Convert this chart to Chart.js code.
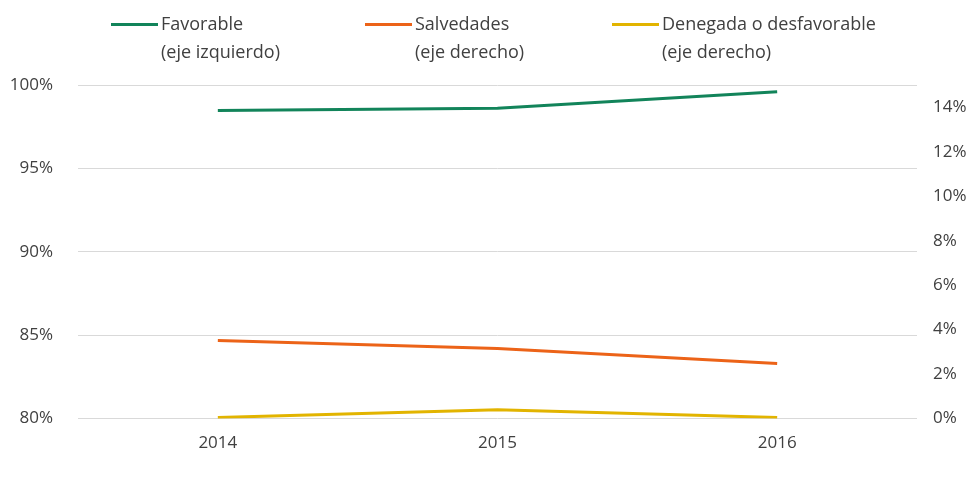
<!DOCTYPE html>
<html>
<head>
<meta charset="utf-8">
<script src="https://cdn.jsdelivr.net/npm/chart.js@4"></script>
<style>
  html, body { margin: 0; padding: 0; background: #fff; }
  #wrap { position: relative; width: 971px; height: 477px; }
  #legend { position: absolute; top: 9px; left: 0; font-family: "Open Sans", sans-serif; font-size: 18px; color: #404040; line-height: 28px; }
  .item { position: absolute; white-space: nowrap; }
  .item .sw { position: absolute; left: 0; top: 14px; width: 47px; height: 3px; }
  .item .txt { position: absolute; left: 50px; top: 0; }
</style>
</head>
<body>
<div id="wrap">
  <canvas id="chart" width="971" height="477"></canvas>
  <div id="legend"></div>
</div>
<script>
//  Audit opinions 2014-2016

const years = ["2014", "2015", "2016"];
const favorable = [98.47, 98.6, 99.6];     // left axis
const salvedades = [3.51, 3.15, 2.48];     // right axis
const denegada = [0.05, 0.4, 0.05];        // right axis

const seriesNames = [
  ["Favorable", "(eje izquierdo)"],
  ["Salvedades", "(eje derecho)"],
  ["Denegada o desfavorable", "(eje derecho)"]
];
const seriesColors = ["#12845a", "#ec6318", "#e2b400"];
const legendLeft = [111, 365, 612];

const leftTicks = [80, 85, 90, 95, 100];
const rightTicks = [0, 2, 4, 6, 8, 10, 12, 14];

const font = { family: "'Open Sans', sans-serif", size: 17 };
const textColor = "#404040";

document.addEventListener("DOMContentLoaded", () => {
  const legend = document.getElementById("legend");
  legend.innerHTML = seriesNames.map((name, i) => `
    <div class="item" style="left:${legendLeft[i]}px">
      <span class="sw" style="background:${seriesColors[i]}"></span>
      <span class="txt">${name[0]}<br>${name[1]}</span>
    </div>`).join("");

  const mkLine = (label, data, i, axis) => ({
    label: label,
    data: data,
    yAxisID: axis,
    borderColor: seriesColors[i],
    backgroundColor: seriesColors[i],
    borderWidth: 3,
    pointRadius: 0,
    tension: 0,
    fill: false
  });

  new Chart(document.getElementById("chart"), {
    type: "line",
    data: {
      labels: years,
      datasets: [
        mkLine(seriesNames[0].join(" "), favorable, 0, "yL"),
        mkLine(seriesNames[1].join(" "), salvedades, 1, "yR"),
        mkLine(seriesNames[2].join(" "), denegada, 2, "yR")
      ]
    },
    options: {
      responsive: false,
      animation: false,
      layout: { padding: { top: 85, bottom: 10, left: 0, right: 0 } },
      plugins: {
        legend: { display: false },
        tooltip: { enabled: false }
      },
      scales: {
        x: {
          offset: true,
          grid: { display: false, drawTicks: false },
          border: { display: false },
          ticks: { color: textColor, font: font, padding: 14 }
        },
        yL: {
          position: "left",
          min: 80,
          max: 100,
          afterBuildTicks: (s) => { s.ticks = leftTicks.map((v) => ({ value: v })); },
          afterFit: (s) => { s.width = 78; },
          grid: { color: "#d9d9d9", lineWidth: 1, drawTicks: false },
          border: { display: false },
          ticks: { color: textColor, font: font, padding: 25, callback: (v) => v + "%" }
        },
        yR: {
          position: "right",
          min: 0,
          max: 15,
          afterBuildTicks: (s) => { s.ticks = rightTicks.map((v) => ({ value: v })); },
          afterFit: (s) => { s.width = 54; },
          grid: { display: false, drawTicks: false },
          border: { display: false },
          ticks: { color: textColor, font: font, padding: 16, callback: (v) => v + "%" }
        }
      }
    }
  });
});
</script>
</body>
</html>
